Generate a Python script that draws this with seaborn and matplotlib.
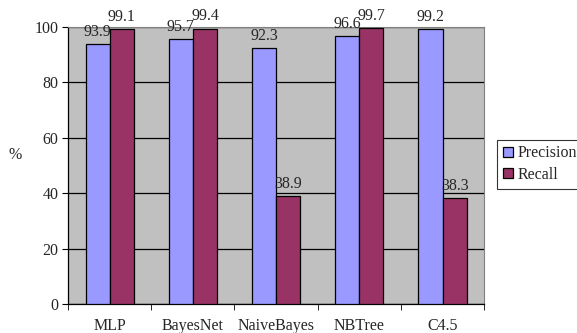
import matplotlib
matplotlib.use("Agg")
import matplotlib.pyplot as plt
from matplotlib import font_manager
import seaborn as sns
import pandas as pd
import numpy as np

classifiers = ["MLP", "BayesNet", "NaiveBayes", "NBTree", "C4.5"]
precision = [93.9, 95.7, 92.3, 96.6, 99.2]
recall = [99.1, 99.4, 38.9, 99.7, 38.3]
series_names = ["Precision", "Recall"]
colors = ["#9999FF", "#993366"]

df = pd.DataFrame({
    "classifier": classifiers * 2,
    "metric": [series_names[0]] * len(classifiers) + [series_names[1]] * len(classifiers),
    "value": precision + recall,
})

sns.set_style("white")
serif_names = sorted({f.name for f in font_manager.fontManager.ttflist if "Liberation Serif" in f.name})
plt.rcParams["font.family"] = (serif_names[:1] or ["serif"]) + ["DejaVu Serif"]
FS = 11.5

fig = plt.figure(figsize=(5.77, 3.33), dpi=100)
ax = fig.add_axes([0.118, 0.087, 0.721, 0.832])
ax.set_facecolor("#C0C0C0")

sns.barplot(data=df, x="classifier", y="value", hue="metric",
            palette=colors, width=0.58, edgecolor="black", linewidth=0.9,
            saturation=1, ax=ax, legend=True, zorder=3)

for cont in ax.containers:
    ax.bar_label(cont, fmt="%.1f", padding=3, fontsize=FS, zorder=5)

ax.set_ylim(0, 100)
ax.set_xlim(-0.5, len(classifiers) - 0.5)
ax.set_yticks(np.arange(0, 101, 20))
ax.yaxis.grid(True, color="black", linewidth=0.9, zorder=0)
ax.set_axisbelow(True)
ax.tick_params(axis="y", labelsize=FS, length=4, direction="out", color="black", left=True, pad=3)
ax.tick_params(axis="x", which="major", labelsize=FS, length=0, pad=10)
ax.set_xticks(np.arange(-0.5, len(classifiers), 1.0), minor=True)
ax.tick_params(axis="x", which="minor", length=4, direction="out", color="black", bottom=True)

for side in ["top", "right"]:
    ax.spines[side].set_color("#808080")
    ax.spines[side].set_linewidth(0.8)
for side in ["left", "bottom"]:
    ax.spines[side].set_color("black")
    ax.spines[side].set_linewidth(0.9)

ax.set_xlabel("")
ax.set_ylabel("%", rotation=0, fontsize=FS)
ax.yaxis.set_label_coords(-0.128, 0.51)

leg = ax.legend(loc="upper left", bbox_to_anchor=(0.862, 0.58), bbox_transform=fig.transFigure,
                frameon=True, fancybox=False, fontsize=FS, handlelength=0.6, handleheight=0.6,
                handletextpad=0.3, borderpad=0.35, labelspacing=0.35, borderaxespad=0)
leg.get_frame().set_edgecolor("black")
leg.get_frame().set_linewidth(0.8)

fig.savefig("out.png", dpi=100)
